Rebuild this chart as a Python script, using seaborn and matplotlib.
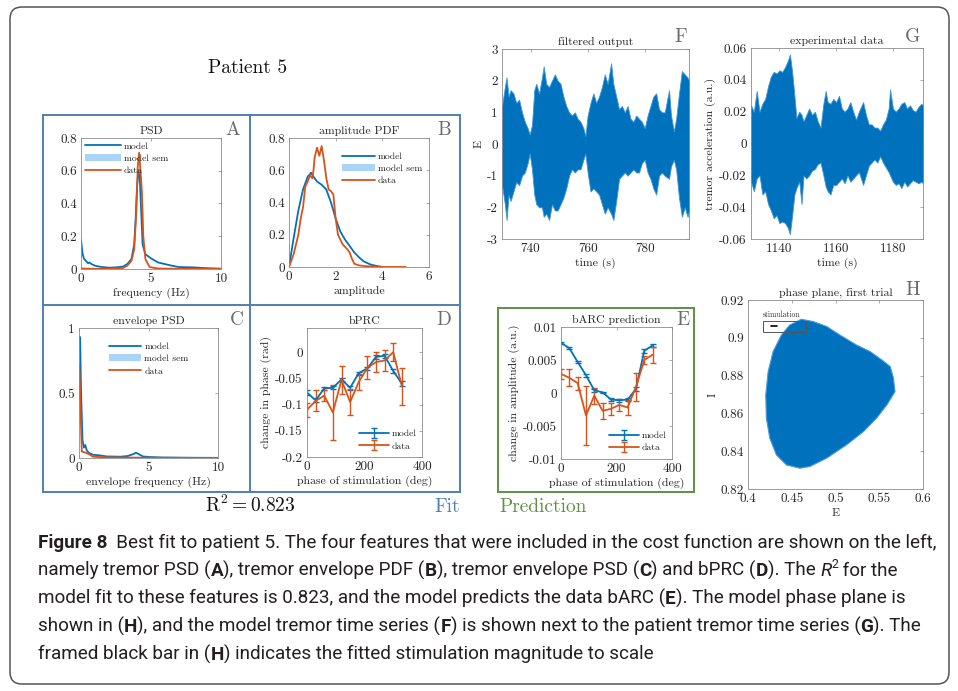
import numpy as np
import pandas as pd
import matplotlib
matplotlib.use("Agg")
import matplotlib.pyplot as plt
import seaborn as sns
from matplotlib.patches import Rectangle, FancyBboxPatch, Patch, Polygon
from matplotlib.lines import Line2D
from matplotlib.transforms import Affine2D
from matplotlib.ticker import FuncFormatter
from matplotlib import font_manager

# ---------------- data ----------------
# A: tremor PSD
psd_model_freq = [0, 0.1, 0.2, 0.35, 0.5, 0.6, 0.75, 1.0, 1.5, 2.0, 2.5, 3.0, 3.3, 3.6, 3.8, 3.9,
                  4.0, 4.1, 4.2, 4.3, 4.4, 4.6, 5.0, 5.5, 6.0, 6.5, 7.0, 8.0, 9.0, 10.0]
psd_model_val = [0.18, 0.10, 0.065, 0.05, 0.035, 0.04, 0.03, 0.02, 0.012, 0.008, 0.01, 0.015, 0.03,
                 0.06, 0.15, 0.30, 0.50, 0.60, 0.55, 0.35, 0.15, 0.09, 0.065, 0.04, 0.03, 0.02,
                 0.012, 0.01, 0.005, 0.002]
psd_data_freq = [0, 0.5, 1.0, 2.0, 3.0, 3.3, 3.6, 3.8, 3.95, 4.05, 4.15, 4.25, 4.35, 4.45, 4.6,
                 4.9, 5.5, 7.0, 10.0]
psd_data_val = [0.003, 0.002, 0.001, 0.002, 0.006, 0.02, 0.05, 0.12, 0.35, 0.62, 0.71, 0.60, 0.47,
                0.20, 0.06, 0.012, 0.003, 0.001, 0.0]

# B: amplitude PDF
amp_model_x = [0, 0.2, 0.4, 0.6, 0.8, 0.95, 1.05, 1.2, 1.4, 1.6, 1.8, 2.0, 2.2, 2.4, 2.6, 2.8,
               3.0, 3.2, 3.5, 3.8, 4.0]
amp_model_y = [0, 0.18, 0.35, 0.48, 0.56, 0.585, 0.56, 0.53, 0.51, 0.48, 0.40, 0.30, 0.22, 0.17,
               0.13, 0.09, 0.06, 0.035, 0.015, 0.005, 0.001]
amp_data_x = [0, 0.2, 0.4, 0.5, 0.6, 0.7, 0.8, 0.9, 1.0, 1.05, 1.1, 1.2, 1.3, 1.4, 1.5, 1.6, 1.7,
              1.8, 1.9, 2.0, 2.1, 2.3, 2.5, 2.6, 2.7, 2.8, 3.0, 3.3, 4.0, 5.0]
amp_data_y = [0, 0.08, 0.20, 0.30, 0.37, 0.50, 0.53, 0.57, 0.55, 0.60, 0.68, 0.74, 0.69, 0.75,
              0.66, 0.55, 0.48, 0.47, 0.45, 0.30, 0.20, 0.14, 0.11, 0.09, 0.05, 0.02, 0.01,
              0.005, 0.0, 0.0]

# C: envelope PSD
env_model_freq = [0.02, 0.08, 0.15, 0.25, 0.35, 0.45, 0.55, 0.7, 1.0, 1.5, 2.0, 3.0, 3.5, 3.9,
                  4.1, 4.3, 4.6, 5.0, 6.0, 8.0, 10.0]
env_model_val = [0.93, 0.93, 0.50, 0.14, 0.08, 0.10, 0.06, 0.04, 0.025, 0.02, 0.012, 0.01, 0.015,
                 0.03, 0.04, 0.03, 0.012, 0.008, 0.004, 0.002, 0.001]
env_data_freq = [0.02, 0.1, 0.2, 0.5, 0.8, 1.0, 2.0, 5.0, 10.0]
env_data_val = [0.72, 0.40, 0.05, 0.04, 0.025, 0.01, 0.005, 0.002, 0.0]

# D: bPRC, E: bARC
phase_deg = [0, 30, 60, 90, 120, 150, 180, 210, 240, 270, 300, 330]
bprc_model = [-0.077, -0.092, -0.069, -0.068, -0.052, -0.068, -0.040, -0.031, -0.009, -0.007,
              -0.036, -0.060]
bprc_model_err = [0.005, 0.004, 0.003, 0.003, 0.003, 0.004, 0.003, 0.003, 0.004, 0.004, 0.003,
                  0.004]
bprc_data = [-0.110, -0.093, -0.083, -0.115, -0.053, -0.095, -0.057, -0.030, -0.019, -0.016,
             0.000, -0.065]
bprc_data_err = [0.013, 0.020, 0.010, 0.053, 0.027, 0.025, 0.015, 0.022, 0.019, 0.020, 0.017,
                 0.035]
barc_model = [0.0076, 0.0068, 0.0047, 0.0027, 0.0004, 0.0001, -0.0010, -0.0011, -0.0010, 0.0006,
              0.0064, 0.0072]
barc_model_err = [0.0002, 0.0002, 0.0002, 0.0002, 0.0002, 0.0001, 0.0002, 0.0002, 0.0002, 0.0003,
                  0.0003, 0.0003]
barc_data = [0.0029, 0.0023, 0.0015, -0.0034, -0.0004, -0.0027, -0.0024, -0.0018, -0.0022, 0.0009,
             0.0050, 0.0058]
barc_data_err = [0.0008, 0.0013, 0.0010, 0.0045, 0.0012, 0.0012, 0.0009, 0.0009, 0.0012, 0.0021,
                 0.0006, 0.0012]

# F: filtered model output, envelope of the oscillation
f_time = [730.0, 731.0, 731.6, 732.3, 733.0, 734.0, 735.0, 736.0, 737.0, 738.0, 739.0, 739.7,
          740.5, 741.3, 742.0, 743.0, 744.0, 744.6, 745.5, 746.5, 747.5, 748.5, 749.5, 750.5,
          751.5, 752.5, 753.5, 754.5, 755.5, 756.5, 757.5, 758.5, 759.2, 760.0, 761.0, 762.0,
          763.0, 764.0, 765.0, 766.0, 767.0, 768.2, 769.0, 770.0, 771.0, 772.0, 773.0, 774.0,
          775.0, 776.0, 777.0, 778.0, 779.0, 780.0, 781.0, 782.0, 783.0, 784.0, 785.0, 786.0,
          787.0, 788.5, 789.2, 790.2, 791.0, 792.0, 793.0, 794.0, 795.0, 795.5]
f_upper = [1.2, 1.8, 2.1, 1.5, 1.7, 1.6, 1.3, 1.4, 1.0, 0.7, 0.5, 0.3, 0.6, 1.7, 1.9, 1.6, 2.1,
           2.45, 1.9, 1.8, 2.0, 2.2, 2.0, 1.9, 1.5, 1.2, 1.0, 0.9, 1.0, 0.8, 0.7, 0.5, 0.25, 0.9,
           1.3, 1.6, 1.3, 1.5, 1.8, 2.2, 1.9, 2.55, 1.9, 1.5, 1.1, 1.2, 1.0, 1.2, 0.8, 0.7, 0.9,
           0.8, 0.7, 0.5, 0.9, 1.2, 1.5, 1.6, 1.1, 1.0, 1.0, 1.7, 0.9, 0.4, 0.8, 1.6, 2.3, 2.2,
           2.1, 2.0]
f_lower = [-1.3, -1.9, -2.4, -1.6, -1.8, -1.5, -1.2, -1.3, -1.0, -0.9, -0.6, -0.3, -0.8, -1.6,
           -1.9, -2.0, -2.0, -2.3, -2.2, -2.4, -1.9, -2.1, -2.1, -1.9, -1.7, -1.4, -1.0, -0.8,
           -0.9, -0.8, -0.8, -0.5, -0.3, -0.9, -1.5, -1.4, -1.5, -1.6, -1.9, -2.2, -2.0, -2.2,
           -2.4, -1.8, -1.1, -1.0, -0.9, -1.0, -0.9, -0.8, -0.9, -0.9, -0.6, -0.5, -0.9, -1.1,
           -1.4, -1.6, -1.0, -0.9, -1.0, -1.1, -0.7, -0.5, -0.8, -1.7, -2.3, -2.0, -2.3, -2.1]

# G: experimental tremor acceleration, envelope
g_time = [1130.0, 1131.0, 1132.0, 1133.0, 1134.0, 1135.0, 1136.0, 1137.0, 1138.0, 1139.0, 1140.0,
          1141.0, 1142.0, 1143.0, 1143.7, 1144.5, 1145.3, 1146.0, 1147.0, 1147.8, 1148.5, 1149.5,
          1150.5, 1151.5, 1152.5, 1153.5, 1154.5, 1155.5, 1156.3, 1157.0, 1158.0, 1159.0, 1160.0,
          1161.0, 1162.0, 1163.0, 1164.0, 1165.0, 1166.0, 1167.0, 1168.0, 1169.5, 1170.5, 1171.5,
          1172.5, 1173.5, 1174.5, 1175.5, 1176.5, 1177.5, 1178.5, 1179.0, 1180.0, 1181.0, 1182.0,
          1183.0, 1184.0, 1185.0, 1186.0, 1187.0, 1188.0, 1189.0, 1190.0, 1190.6]
g_upper = [0.024, 0.020, 0.033, 0.020, 0.025, 0.028, 0.036, 0.042, 0.045, 0.044, 0.046, 0.045,
           0.048, 0.052, 0.056, 0.045, 0.030, 0.016, 0.020, 0.018, 0.014, 0.018, 0.022, 0.018,
           0.020, 0.014, 0.010, 0.025, 0.033, 0.026, 0.025, 0.028, 0.026, 0.030, 0.022, 0.020,
           0.022, 0.026, 0.020, 0.015, 0.020, 0.026, 0.018, 0.012, 0.012, 0.010, 0.010, 0.008,
           0.012, 0.015, 0.022, 0.034, 0.022, 0.020, 0.022, 0.025, 0.026, 0.022, 0.024, 0.021,
           0.020, 0.023, 0.025, 0.024]
g_lower = [-0.024, -0.030, -0.022, -0.020, -0.032, -0.030, -0.038, -0.042, -0.047, -0.045,
           -0.050, -0.049, -0.050, -0.053, -0.057, -0.045, -0.032, -0.028, -0.024, -0.038,
           -0.020, -0.022, -0.020, -0.017, -0.016, -0.013, -0.012, -0.020, -0.027, -0.030,
           -0.032, -0.026, -0.026, -0.024, -0.022, -0.025, -0.020, -0.024, -0.022, -0.020,
           -0.018, -0.026, -0.020, -0.014, -0.012, -0.010, -0.012, -0.008, -0.012, -0.015,
           -0.018, -0.020, -0.024, -0.026, -0.025, -0.028, -0.024, -0.027, -0.025, -0.023,
           -0.024, -0.025, -0.024, -0.025]

# H: phase plane, outer boundary of the trajectory cloud
h_E = [0.461, 0.4746, 0.4899, 0.505, 0.524, 0.5396, 0.553, 0.5625, 0.5663, 0.568, 0.5587, 0.547,
       0.532, 0.5128, 0.4899, 0.4707, 0.4593, 0.444, 0.4325, 0.4249, 0.421, 0.4203, 0.423,
       0.4287, 0.4382, 0.4478]
h_I = [0.9098, 0.9086, 0.906, 0.9015, 0.8962, 0.8927, 0.8883, 0.8848, 0.8786, 0.8715, 0.8645,
       0.8575, 0.8504, 0.8434, 0.8363, 0.8319, 0.831, 0.8327, 0.838, 0.8469, 0.8575, 0.8698,
       0.882, 0.8927, 0.9015, 0.9068]

# ---------------- style ----------------
sns.set_theme(style="white")
plt.rcParams["font.family"] = ["cmr10", "DejaVu Serif"]
plt.rcParams["mathtext.fontset"] = "cm"
plt.rcParams["axes.unicode_minus"] = False

BLUE = "#0072BD"
ORANGE = "#D95319"
SEM = "#a9d3f7"
FRAME_BLUE = "#4f7fb4"
FRAME_GREEN = "#5e9141"
TXT = "#262626"

W, H = 958, 691
fig = plt.figure(figsize=(W / 100, H / 100), dpi=100)
fig.patch.set_facecolor("white")
PX = Affine2D().scale(1, -1).translate(0, H)


def ftext(x, y, s, **kw):
    return fig.text(x, y, s, transform=PX, **kw)


def add_ax(x0, y0, x1, y1):
    return fig.add_axes([x0 / W, 1 - y1 / H, (x1 - x0) / W, (y1 - y0) / H])


fmt = FuncFormatter(lambda v, p: "%g" % round(v, 6))


def style(ax, xl, yl, title, xlabel, ylabel=None):
    ax.set_xlim(*xl)
    ax.set_ylim(*yl)
    for s in ax.spines.values():
        s.set_linewidth(0.6)
        s.set_color("#8a8a8a")
        s.set_visible(True)
    ax.tick_params(direction="in", length=2.5, width=0.5, top=True, right=True,
                   labelsize=9.5, colors="#8a8a8a", labelcolor=TXT, pad=3)
    ax.xaxis.set_major_formatter(fmt)
    ax.yaxis.set_major_formatter(fmt)
    ax.set_title(title, fontsize=8.5, color=TXT, pad=3)
    ax.set_xlabel(xlabel, fontsize=8.5, color=TXT, labelpad=2)
    if ylabel:
        ax.set_ylabel(ylabel, fontsize=8.5, color=TXT, labelpad=2)
    ax.grid(False)
    ax.set_facecolor("white")


# ---------------- outer box, frames ----------------
fig.add_artist(FancyBboxPatch((10, 7), 939, 677, boxstyle="round,pad=0,rounding_size=12",
                              transform=PX, facecolor="none", edgecolor="#555555", lw=1.1))
fig.add_artist(Rectangle((43, 115), 417, 377, transform=PX, fill=False,
                         edgecolor=FRAME_BLUE, lw=1.4))
fig.add_artist(Line2D([250, 250], [115, 492], transform=PX, color=FRAME_BLUE, lw=1.4))
fig.add_artist(Line2D([43, 460], [305, 305], transform=PX, color=FRAME_BLUE, lw=1.4))
fig.add_artist(Rectangle((498, 308), 196, 184, transform=PX, fill=False,
                         edgecolor=FRAME_GREEN, lw=1.4))

ftext(248, 68, "Patient 5", fontsize=14, ha="center", va="center", color="#111111")
ftext(250, 505, r"$\mathrm{R}^2 = 0.823$", fontsize=14, ha="center", va="center", color="#111111")
ftext(447, 507, "Fit", fontsize=14, ha="center", va="center", color=FRAME_BLUE)
ftext(543, 507, "Prediction", fontsize=14, ha="center", va="center", color=FRAME_GREEN)

for lab, x, y in [("A", 233, 130), ("B", 444, 130), ("C", 237, 320), ("D", 444, 320),
                  ("E", 683, 320), ("F", 681, 37), ("G", 912, 37), ("H", 913, 290)]:
    ftext(x, y, lab, fontsize=14, ha="center", va="center", color="#6b6b6b")

sem_handle = Patch(facecolor=SEM, edgecolor="none")
leg_kw = dict(frameon=False, fontsize=7, labelspacing=0.35, handletextpad=0.3,
              borderpad=0.2, borderaxespad=0.2)

# ---------------- A ----------------
axA = add_ax(81, 138, 221, 269)
sns.lineplot(x=psd_model_freq, y=psd_model_val, ax=axA, color=BLUE, lw=1.3)
sns.lineplot(x=psd_data_freq, y=psd_data_val, ax=axA, color=ORANGE, lw=1.3)
style(axA, (0, 10), (0, 0.8), "PSD", "frequency (Hz)")
axA.set_xticks([0, 5, 10])
axA.set_yticks([0, 0.2, 0.4, 0.6, 0.8])
axA.legend([Line2D([], [], color=BLUE, lw=1.3), sem_handle, Line2D([], [], color=ORANGE, lw=1.3)],
           ["model", "model sem", "data"], loc="upper left", bbox_to_anchor=(0.0, 1.0),
           handlelength=3.7, **leg_kw)

# ---------------- B ----------------
axB = add_ax(289, 138, 429, 267)
sns.lineplot(x=amp_model_x, y=amp_model_y, ax=axB, color=BLUE, lw=1.3)
sns.lineplot(x=amp_data_x, y=amp_data_y, ax=axB, color=ORANGE, lw=1.3)
style(axB, (0, 6), (0, 0.8), "amplitude PDF", "amplitude")
axB.set_xticks([0, 2, 4, 6])
axB.set_yticks([0, 0.2, 0.4, 0.6, 0.8])
axB.legend([Line2D([], [], color=BLUE, lw=1.3), sem_handle, Line2D([], [], color=ORANGE, lw=1.3)],
           ["model", "model sem", "data"], loc="upper right", bbox_to_anchor=(0.98, 0.92),
           handlelength=3.4, **leg_kw)

# ---------------- C ----------------
axC = add_ax(79, 328, 218, 458)
sns.lineplot(x=env_model_freq, y=env_model_val, ax=axC, color=BLUE, lw=1.3)
sns.lineplot(x=env_data_freq, y=env_data_val, ax=axC, color=ORANGE, lw=1.3)
style(axC, (0, 10), (0, 1), "envelope PSD", "envelope frequency (Hz)")
axC.set_xticks([0, 5, 10])
axC.set_yticks([0, 0.5, 1])
axC.legend([Line2D([], [], color=BLUE, lw=1.3), sem_handle, Line2D([], [], color=ORANGE, lw=1.3)],
           ["model", "model sem", "data"], loc="upper left", bbox_to_anchor=(0.19, 0.92),
           handlelength=3.3, **leg_kw)

# ---------------- D ----------------
axD = add_ax(307, 328, 422, 457)
axD.errorbar(phase_deg, bprc_model, yerr=bprc_model_err, color=BLUE, lw=1.3, capsize=2.5,
             capthick=1.0, elinewidth=1.0, label="model")
axD.errorbar(phase_deg, bprc_data, yerr=bprc_data_err, color=ORANGE, lw=1.3, capsize=2.5,
             capthick=1.0, elinewidth=1.0, label="data")
style(axD, (0, 400), (-0.2, 0.046), "bPRC", "phase of stimulation (deg)",
      "change in phase (rad)")
axD.set_xticks([0, 200, 400])
axD.set_yticks([-0.2, -0.15, -0.1, -0.05, 0])
axD.legend(loc="lower right", bbox_to_anchor=(0.99, 0.02), handlelength=3.1, **leg_kw)

# ---------------- E ----------------
axE = add_ax(561, 327, 672, 459)
axE.errorbar(phase_deg, barc_model, yerr=barc_model_err, color=BLUE, lw=1.3, capsize=2.5,
             capthick=1.0, elinewidth=1.0, label="model")
axE.errorbar(phase_deg, barc_data, yerr=barc_data_err, color=ORANGE, lw=1.3, capsize=2.5,
             capthick=1.0, elinewidth=1.0, label="data")
style(axE, (0, 400), (-0.01, 0.01), "bARC prediction", "phase of stimulation (deg)",
      "change in amplitude (a.u.)")
axE.set_xticks([0, 200, 400])
axE.set_yticks([-0.01, -0.005, 0, 0.005, 0.01])
axE.legend(loc="lower right", bbox_to_anchor=(0.99, 0.02), handlelength=3.1, **leg_kw)

# ---------------- F ----------------
axF = add_ax(502, 49, 689, 239)
axF.fill_between(f_time, f_lower, f_upper, color=BLUE, lw=0.6, edgecolor="#3f95d6")
style(axF, (730, 795.5), (-3, 3), "filtered output", "time (s)", "E")
axF.set_xticks([740, 760, 780])
axF.set_yticks([-3, -2, -1, 0, 1, 2, 3])

# ---------------- G ----------------
axG = add_ax(751, 48, 923, 239)
axG.fill_between(g_time, g_lower, g_upper, color=BLUE, lw=0.6, edgecolor="#3f95d6")
style(axG, (1130, 1190.6), (-0.06, 0.06), "experimental data", "time (s)",
      "tremor acceleration (a.u.)")
axG.set_xticks([1140, 1160, 1180])
axG.set_yticks([-0.06, -0.04, -0.02, 0, 0.02, 0.04, 0.06])

# ---------------- H ----------------
axH = add_ax(748, 300, 923, 489)
axH.fill(h_E, h_I, facecolor=BLUE, edgecolor="#4a9ad8", lw=0.8)
style(axH, (0.4, 0.6), (0.82, 0.92), "phase plane, first trial", "E", "I")
axH.set_xticks([0.4, 0.45, 0.5, 0.55, 0.6])
axH.set_yticks([0.82, 0.84, 0.86, 0.88, 0.9, 0.92])
axH.add_patch(Rectangle((0.4172, 0.9033), 0.049, 0.0058, fill=False, edgecolor="#555555", lw=0.7))
axH.plot([0.4268, 0.4333], [0.9063, 0.9063], color="black", lw=1.2)
axH.text(0.4172, 0.9098, "stimulation", fontsize=5.5, color=TXT, ha="left", va="bottom")

# ---------------- caption ----------------
names = {f.name for f in font_manager.fontManager.ttflist}
cap_font = "DejaVu Sans"
for c in ["Roboto", "Liberation Sans", "Open Sans"]:
    if c in names:
        cap_font = c
        break

renderer = fig.canvas.get_renderer()


def seg_width(s, size, **kw):
    t1 = fig.text(0, 0, "x" + s + "x", fontsize=size, family=cap_font, **kw)
    t2 = fig.text(0, 0, "xx", fontsize=size, family=cap_font, **kw)
    w = t1.get_window_extent(renderer).width - t2.get_window_extent(renderer).width
    t1.remove()
    t2.remove()
    return w


def seg_kw(kind):
    if kind == "b":
        return {"fontweight": "bold"}
    if kind == "i":
        return {"fontstyle": "italic"}
    return {}


caption = [
    [("Figure 8", "b"), ("  Best fit to patient 5. The four features that were included in the "
                         "cost function are shown on the left,", "n")],
    [("namely tremor PSD (", "n"), ("A", "b"), ("), tremor envelope PDF (", "n"), ("B", "b"),
     ("), tremor envelope PSD (", "n"), ("C", "b"), (") and bPRC (", "n"), ("D", "b"),
     ("). The ", "n"), ("R", "i"), ("2", "sup"), (" for the", "n")],
    [("model fit to these features is 0.823, and the model predicts the data bARC (", "n"),
     ("E", "b"), ("). The model phase plane is", "n")],
    [("shown in (", "n"), ("H", "b"), ("), and the model tremor time series (", "n"), ("F", "b"),
     (") is shown next to the patient tremor time series (", "n"), ("G", "b"), ("). The", "n")],
    [("framed black bar in (", "n"), ("H", "b"),
     (") indicates the fitted stimulation magnitude to scale", "n")],
]

test = 10.0
w1 = sum(seg_width(s, test, **seg_kw(k)) for s, k in caption[0])
cap_size = min(14.0, test * 902.0 / w1)

baselines = [548, 576, 604, 632, 660]
for line, yb in zip(caption, baselines):
    x = 38.0
    for s, kind in line:
        size = cap_size
        y = yb
        kw = seg_kw(kind)
        if kind == "sup":
            size = cap_size * 0.65
            y = yb - cap_size * 1.389 * 0.45
        ftext(x, y, s, fontsize=size, family=cap_font, color="#231f20", ha="left",
              va="baseline", **kw)
        x += seg_width(s, size, **kw)

fig.savefig("out.png", dpi=100, facecolor="white")
